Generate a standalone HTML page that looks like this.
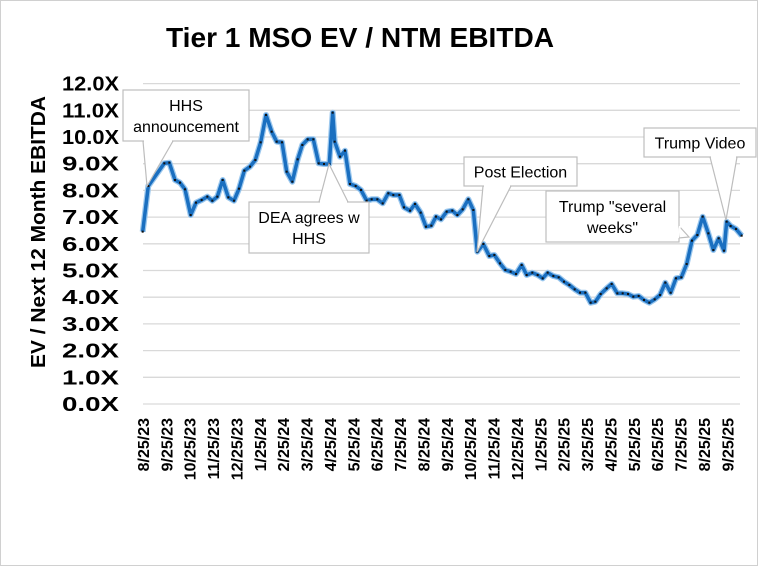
<!DOCTYPE html>
<html><head><meta charset="utf-8"><style>
html,body{margin:0;padding:0;background:#fff}
svg{display:block}
text{font-family:"Liberation Sans",Arial,sans-serif}
</style></head><body>
<svg id="c" width="758" height="566" viewBox="0 0 758 566" xmlns="http://www.w3.org/2000/svg">
<rect x="0.5" y="0.5" width="757" height="565" fill="#fff" stroke="#d0d0d0"/>
<text x="360" y="47" text-anchor="middle" font-size="28" font-weight="bold" fill="#000" textLength="388" lengthAdjust="spacingAndGlyphs">Tier 1 MSO EV / NTM EBITDA</text>
<text transform="translate(45,232) rotate(-90)" text-anchor="middle" font-size="20" font-weight="bold" textLength="272" lengthAdjust="spacingAndGlyphs">EV / Next 12 Month EBITDA</text>
<g id="grid"></g>
<g id="ylab" font-size="20" font-weight="bold" text-anchor="end"></g>
<g id="xlab" font-size="16" font-weight="bold" text-anchor="end"></g>
<g id="series"></g>
<g id="callouts" font-size="16" fill="#000"></g>
</svg>
<script>
var NS="http://www.w3.org/2000/svg";
function el(p,t,a,txt){var e=document.createElementNS(NS,t);for(var k in a)e.setAttribute(k,a[k]);if(txt!=null)e.textContent=txt;p.appendChild(e);return e;}
var g=document.getElementById('grid'),yl=document.getElementById('ylab'),xl=document.getElementById('xlab');
for(var i=0;i<=12;i++){var y=404-i*26.7;
 el(g,'line',{x1:143,x2:740,y1:y,y2:y,stroke:'#d9d9d9','stroke-width':1.3});
 el(yl,'text',{x:119,y:y+7,textLength:57,lengthAdjust:'spacingAndGlyphs'},i.toFixed(1)+'X');}
var labs=['8/25/23','9/25/23','10/25/23','11/25/23','12/25/23','1/25/24','2/25/24','3/25/24','4/25/24','5/25/24','6/25/24','7/25/24','8/25/24','9/25/24','10/25/24','11/25/24','12/25/24','1/25/25','2/25/25','3/25/25','4/25/25','5/25/25','6/25/25','7/25/25','8/25/25','9/25/25'];
for(var i=0;i<labs.length;i++){var x=143+i*23.37;
 el(xl,'text',{transform:'translate('+(x+6)+',418) rotate(-90)'},labs[i]);}
var z1=[[38,455],[55,318],[103,250],[118,248],[135,300],[150,308],[165,328],[182,405],[198,368],[215,360],[232,350],[247,362],[262,350],[278,300],[295,352],[312,362],[327,326],[343,272],[360,260],[376,240],[392,187],[408,105],[425,155],[440,185],[456,187],[470,275],[487,305],[503,238],[517,195],[533,178],[550,178],[566,250],[582,252],[598,252],[608,98],[614,185],[630,230],[645,212],[660,312],[677,318],[693,330],[710,362],[725,358],[742,358],[758,370],[775,340],[790,345],[808,345],[822,382],[840,392],[855,372],[872,398],[888,440],[904,437],[918,410],[933,418],[950,395]];
var z2=[[37,272],[52,285],[68,268],[85,238],[100,270],[112,395],[130,372],[148,408],[163,405],[180,430],[196,450],[212,455],[228,462],[245,435],[260,465],[277,458],[293,465],[308,475],[323,458],[340,468],[356,472],[372,485],[388,495],[404,508],[420,518],[436,518],[452,548],[466,545],[482,522],[500,505],[515,492],[532,520],[548,520],[564,522],[580,530],[596,528],[612,540],[628,548],[644,538],[660,525],[676,488],[692,518],[708,475],[724,472],[740,432],[756,362],[772,345],[788,290],[805,340],[820,390],[836,355],[852,392],[860,305],[872,318],[888,327],[905,347]];
var pts=[];
z1.forEach(function(p){pts.push([130+p[0]/3,80+p[1]/3]);});
z2.forEach(function(p){pts.push([440+p[0]/3,120+p[1]/3]);});
var s=document.getElementById('series');
var d=pts.map(function(p){return p[0].toFixed(1)+','+p[1].toFixed(1);}).join(' ');
el(s,'polyline',{points:d,fill:'none',stroke:'#9cc8ee','stroke-width':6,'stroke-linejoin':'round'});
el(s,'polyline',{points:d,fill:'none',stroke:'#1a6fc0','stroke-width':3.5,'stroke-linejoin':'round'});
pts.forEach(function(p){el(s,'rect',{x:p[0]-1,y:p[1]-1,width:2,height:2,fill:'#111'});});
var c=document.getElementById('callouts');
function co(bx,by,bw,bh,w1,w2,tx,lines){
 el(c,'polygon',{points:w1[0]+','+w1[1]+' '+tx[0]+','+tx[1]+' '+w2[0]+','+w2[1],fill:'#fff',stroke:'#bdbdbd','stroke-width':1.2});
 el(c,'rect',{x:bx,y:by,width:bw,height:bh,fill:'#fff',stroke:'#bdbdbd','stroke-width':1.2});
 el(c,'line',{x1:w1[0]+1,y1:w1[1],x2:w2[0]-1,y2:w2[1],stroke:'#fff','stroke-width':2});
 var lh=21,y0=by+bh/2-(lines.length-1)*lh/2+6;
 lines.forEach(function(l,i){el(c,'text',{x:bx+bw/2,y:y0+i*lh,'text-anchor':'middle'},l);});
}
co(123,90,126,51,[143,141],[173,141],[147,186],['HHS','announcement']);
co(249,202,120,51,[319,202],[348,202],[329,164],['DEA agrees w','HHS']);
co(464,157,113,29,[483,186],[511,186],[477,252],['Post Election']);
co(546,191,133,51,[679,226],[679,238],[689,237],['Trump "several','weeks"']);
co(644,128,112,29,[710,157],[737,157],[726,220],['Trump Video']);
</script>
</body></html>
